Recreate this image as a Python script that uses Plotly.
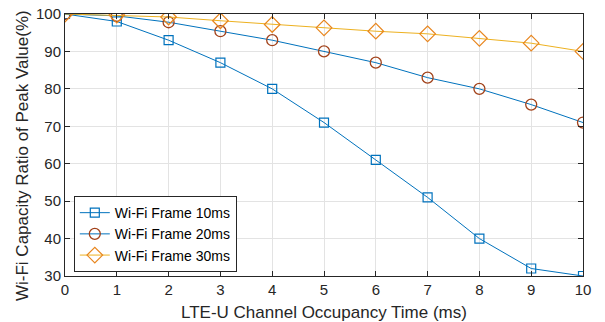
import plotly.graph_objects as go

x_vals = [0, 1, 2, 3, 4, 5, 6, 7, 8, 9, 10]
frame_10ms = [100, 98, 93, 87, 80, 71, 61, 51, 40, 32, 30]
frame_20ms = [100, 99.5, 97.8, 95.4, 93, 90, 87, 83, 80, 75.8, 71]
frame_30ms = [100, 99.7, 99.2, 98.2, 97.2, 96.3, 95.4, 94.7, 93.5, 92.2, 90]
names = ["Wi-Fi Frame 10ms", "Wi-Fi Frame 20ms", "Wi-Fi Frame 30ms"]
x_title = "LTE-U Channel Occupancy Time (ms)"
y_title = "Wi-Fi Capacity Ratio of Peak Value(%)"

fig = go.Figure()
fig.add_trace(go.Scatter(x=x_vals, y=frame_10ms, name=names[0], mode="lines+markers",
                         line=dict(color="#0072BD", width=1),
                         marker=dict(symbol="square-open", size=9, color="#0072BD", line=dict(width=1.2))))
fig.add_trace(go.Scatter(x=x_vals, y=frame_20ms, name=names[1], mode="lines+markers",
                         line=dict(color="#0072BD", width=1),
                         marker=dict(symbol="circle-open", size=11, color="#A2421A", line=dict(width=1.3))))
fig.add_trace(go.Scatter(x=x_vals, y=frame_30ms, name=names[2], mode="lines+markers",
                         line=dict(color="#EDB120", width=1),
                         marker=dict(symbol="diamond-open", size=12, color="#E8861E", line=dict(width=1.2))))

axis_common = dict(showline=True, linecolor="#262626", linewidth=1, mirror="ticks",
                   ticks="inside", ticklen=5, tickcolor="#262626", automargin=False,
                   ticklabeloverflow="allow",
                   showgrid=True, gridcolor="#E3E3E3", gridwidth=1, zeroline=False,
                   tickfont=dict(family="Liberation Sans, Arial", size=15, color="#262626"))

fig.update_layout(
    width=605, height=322,
    margin=dict(l=65, r=22, t=14, b=46),
    paper_bgcolor="white", plot_bgcolor="white",
    font=dict(family="Liberation Sans, Arial", size=14, color="#262626"),
    showlegend=True,
    legend=dict(x=0.017, y=0.015, xanchor="left", yanchor="bottom",
                bgcolor="white", bordercolor="#262626", borderwidth=1,
                font=dict(size=14, color="#000000"), tracegroupgap=0,
                itemwidth=30),
    xaxis=dict(range=[0, 10], dtick=1, **axis_common),
    yaxis=dict(range=[30, 100], dtick=10, **axis_common),
    annotations=[
        dict(text=x_title, xref="paper", yref="paper", x=0.5, y=-0.141,
             xanchor="center", yanchor="middle", showarrow=False,
             font=dict(size=17, color="#262626")),
        dict(text=y_title, xref="paper", yref="paper", x=-0.083, y=0.458,
             xanchor="center", yanchor="middle", showarrow=False, textangle=-90,
             font=dict(size=17, color="#262626")),
    ],
)

fig.write_html("out.html", config={"displayModeBar": False},
               post_script="document.body.style.margin='0px';")
